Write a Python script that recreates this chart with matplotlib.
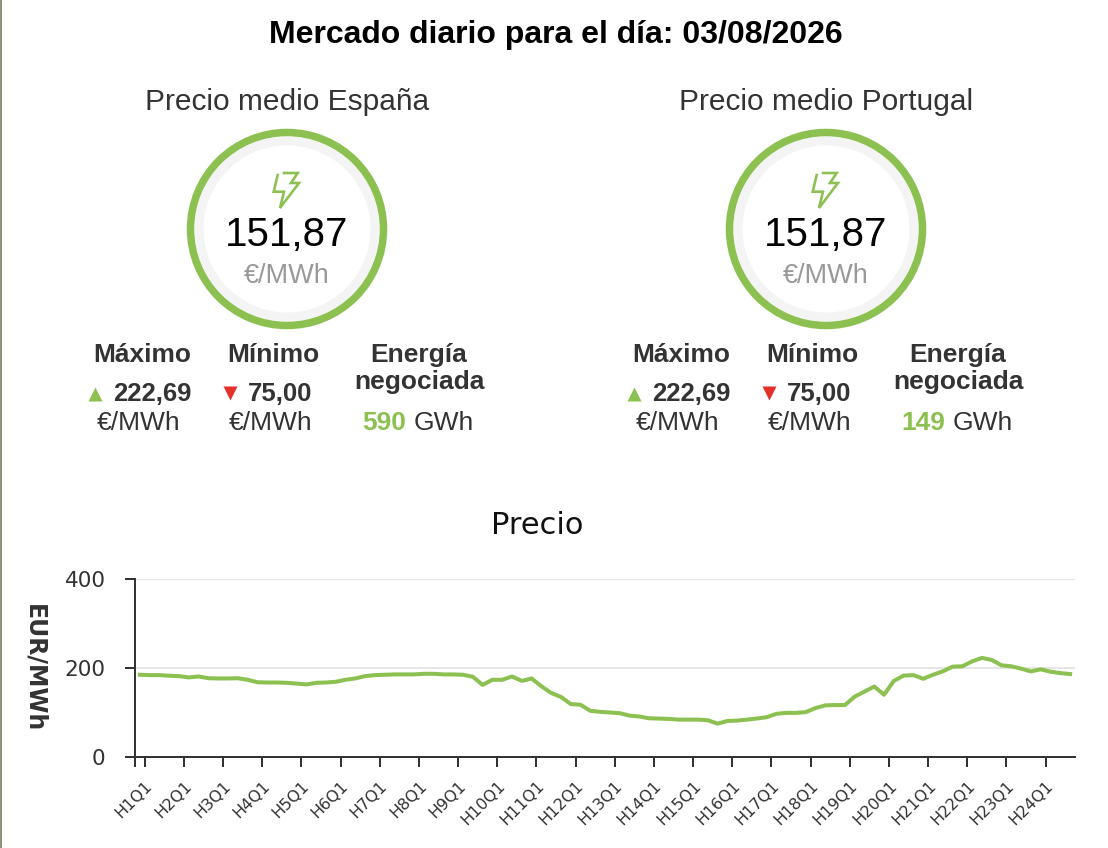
import matplotlib
matplotlib.use("Agg")
import matplotlib.pyplot as plt
from matplotlib.patches import Circle
from matplotlib import font_manager
import numpy as np

# valores del mercado diario
fecha = "03/08/2026"
zonas = ["España", "Portugal"]
precio_medio = ["151,87", "151,87"]
precio_max = ["222,69", "222,69"]
precio_min = ["75,00", "75,00"]
energia = ["590", "149"]

# precio por cuarto de hora (EUR/MWh)
cuartos = [f"H{h}Q{q}" for h in range(1, 25) for q in range(1, 5)]
precio = [
    184.8, 184.0, 184.0, 182.6, 181.8, 178.8, 181.0, 177.0,
    176.5, 176.5, 177.0, 173.5, 168.0, 167.4, 167.4, 166.7,
    165.0, 163.0, 166.7, 167.4, 169.0, 173.5, 176.5, 181.8,
    184.0, 184.8, 185.6, 185.6, 185.6, 187.0, 187.0, 185.6,
    185.6, 184.8, 180.3, 162.0, 173.5, 173.5, 181.0, 171.0,
    176.5, 159.0, 144.0, 135.0, 119.0, 117.4, 103.8, 101.5,
    100.0, 98.5, 93.0, 91.0, 87.0, 86.4, 85.6, 84.0,
    84.0, 84.0, 82.6, 75.0, 81.0, 81.8, 84.0, 86.4,
    89.4, 97.0, 99.2, 99.2, 100.8, 110.0, 116.0, 116.7,
    116.7, 135.6, 147.0, 158.3, 140.0, 171.0, 183.0, 184.0,
    175.8, 184.8, 192.4, 203.0, 203.8, 215.0, 222.7, 218.0,
    206.0, 203.8, 198.5, 192.4, 197.0, 191.7, 188.6, 186.4,
]

GREEN = "#8cc152"
RED = "#e5302a"
DARK = "#333333"
PX = 0.72  # px -> pt a 100 dpi

names = {f.name for f in font_manager.fontManager.ttflist}
SANS = "Liberation Sans" if "Liberation Sans" in names else "DejaVu Sans"
if "Liberation Sans Narrow" in names:
    ylab_font, ylab_size = "Liberation Sans Narrow", 24
else:
    ylab_font, ylab_size = "DejaVu Sans", 17

fig = plt.figure(figsize=(11.08, 8.48), dpi=100)

# capa de fondo en coordenadas de pixel
bg = fig.add_axes([0, 0, 1, 1])
bg.set_xlim(0, 1108)
bg.set_ylim(848, 0)
bg.axis("off")

bg.plot([1, 1], [0, 848], color="#8e9478", lw=2 * PX)

bg.text(556, 43, f"Mercado diario para el día: {fecha}", ha="center", va="baseline",
        fontsize=23, fontweight="bold", family=SANS, color="black")

bolt = np.array([(-8.3, -16), (-12.3, 0.7), (-2, 0.7), (-6, 17), (13, -8),
                 (5, -8), (11.7, -18), (-2, -18)])

for k, cx in enumerate([287, 826]):
    cy = 229
    bg.text(cx, 110, f"Precio medio {zonas[k]}", ha="center", va="baseline",
            fontsize=21.5, family=SANS, color=DARK)
    bg.add_patch(Circle((cx, cy), 88, fill=False, ec="#f4f4f4", lw=9 * PX))
    bg.add_patch(Circle((cx, cy), 96.5, fill=False, ec=GREEN, lw=7.5 * PX))
    bg.plot(cx - 1 + bolt[:, 0], 191 + bolt[:, 1], color=GREEN, lw=2.6 * PX,
            solid_joinstyle="miter")
    bg.text(cx, 246, precio_medio[k], ha="center", va="baseline",
            fontsize=29, family=SANS, color="black")
    bg.text(cx, 283, "€/MWh", ha="center", va="baseline",
            fontsize=19.5, family=SANS, color="#999999")

    bg.text(cx - 145, 362, "Máximo", ha="center", va="baseline",
            fontsize=19, fontweight="bold", family=SANS, color=DARK)
    bg.text(cx - 14, 362, "Mínimo", ha="center", va="baseline",
            fontsize=19, fontweight="bold", family=SANS, color=DARK)
    bg.text(cx + 132, 362, "Energía", ha="center", va="baseline",
            fontsize=19, fontweight="bold", family=SANS, color=DARK)
    bg.text(cx + 132, 389, "negociada", ha="center", va="baseline",
            fontsize=19, fontweight="bold", family=SANS, color=DARK)

    bg.plot([cx - 192], [394], marker="^", ms=10, color=GREEN, mec="none")
    bg.plot([cx - 57], [393], marker="v", ms=10, color=RED, mec="none")
    bg.text(cx - 135, 401, precio_max[k], ha="center", va="baseline",
            fontsize=18.5, fontweight="bold", family=SANS, color=DARK)
    bg.text(cx - 7, 401, precio_min[k], ha="center", va="baseline",
            fontsize=18.5, fontweight="bold", family=SANS, color=DARK)
    bg.text(cx - 148, 430, "€/MWh", ha="center", va="baseline",
            fontsize=19, family=SANS, color=DARK)
    bg.text(cx - 16, 430, "€/MWh", ha="center", va="baseline",
            fontsize=19, family=SANS, color=DARK)
    bg.text(cx + 119, 430, energia[k], ha="right", va="baseline",
            fontsize=19, fontweight="bold", family=SANS, color=GREEN)
    bg.text(cx + 127, 430, "GWh", ha="left", va="baseline",
            fontsize=19, family=SANS, color=DARK)

bg.text(537, 534, "Precio", ha="center", va="baseline", fontsize=22,
        family="DejaVu Sans", color="#111111")
bg.text(34, 668, "EUR/MWh", ha="center", va="center", rotation=270,
        fontsize=ylab_size, fontweight="bold", family=ylab_font, color=DARK)

# grafica de precios
ax = fig.add_axes([135 / 1108, 1 - 757 / 848, 940 / 1108, 178 / 848])
x = np.arange(len(precio))
ax.plot(x, precio, color=GREEN, lw=2.9, solid_joinstyle="round", zorder=3)
ax.set_xlim(-0.5, len(precio) - 0.5)
ax.set_ylim(0, 400)
ax.set_yticks([0, 200, 400])
ax.set_xticks(x[::4] + 0.5)
ax.set_xticklabels(cuartos[::4], rotation=45, ha="right", va="top",
                   rotation_mode="anchor")
ax.set_xticks([-0.5], minor=True)
ax.grid(axis="y", color="#e6e6e6", lw=2 * PX, zorder=0)
ax.set_axisbelow(True)
for s in ["top", "right"]:
    ax.spines[s].set_visible(False)
for s in ["left", "bottom"]:
    ax.spines[s].set_color(DARK)
    ax.spines[s].set_linewidth(2 * PX)
ax.tick_params(axis="y", length=10 * PX, width=2 * PX, color=DARK, pad=14,
               labelsize=15.5, labelcolor=DARK)
ax.tick_params(axis="x", which="both", length=10 * PX, width=2 * PX, color=DARK,
               pad=8, labelsize=11.5, labelcolor=DARK)
for lab in ax.get_yticklabels() + ax.get_xticklabels():
    lab.set_family("DejaVu Sans")

fig.savefig("out.png", dpi=100)
